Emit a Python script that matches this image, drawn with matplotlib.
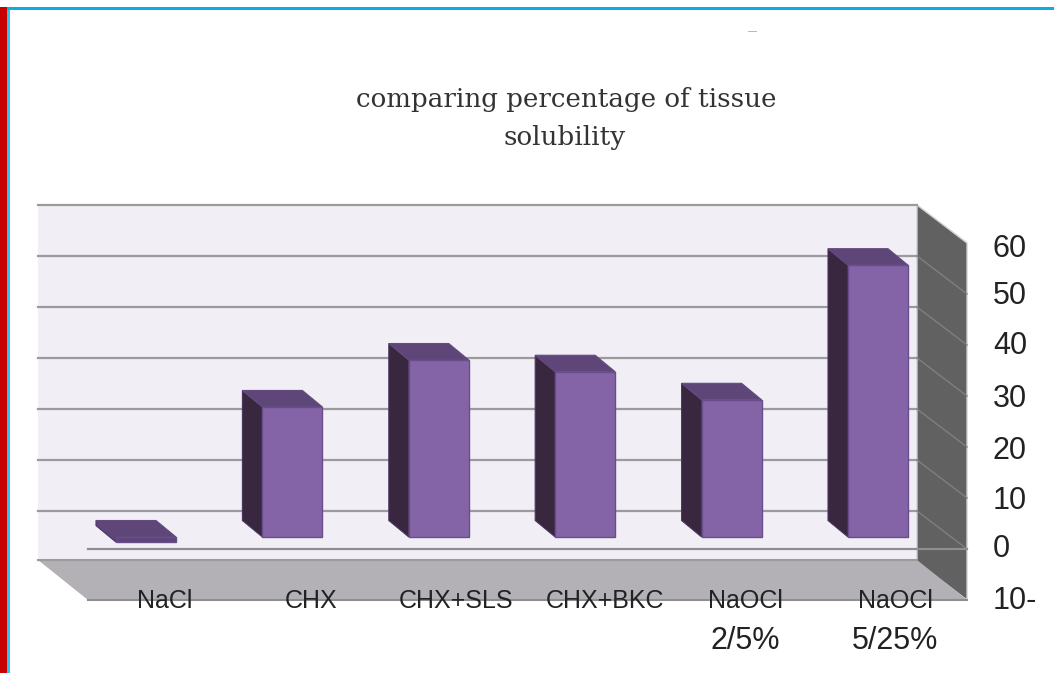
import matplotlib
matplotlib.use('Agg')
import matplotlib.pyplot as plt
from matplotlib.patches import Polygon, Rectangle

categories = ['NaCl', 'CHX', 'CHX+SLS', 'CHX+BKC', 'NaOCl', 'NaOCl']
sublabels = ['', '', '', '', '2/5%', '5/25%']
values = [-1, 25.5, 34.7, 32.4, 26.9, 53.3]
ticks = [60, 50, 40, 30, 20, 10, 0, -10]
tick_labels = ['60', '50', '40', '30', '20', '10', '0', '10-']
title_lines = ['comparing percentage of tissue', 'solubility']

W, H = 1054, 673
PX_X = 146.4   # pixels per category
PX_Y = 5.1     # pixels per percent
X0 = 146       # pixel of first bar centre
Y0 = 537       # pixel of the zero level in the bar plane

# depth of the box and bars, in data units
BACK = 26 / PX_Y
FRONT = -12 / PX_Y
BAR_DX = 20 / PX_X
BAR_DY = 16.5 / PX_Y
HALF = 30 / PX_X
WALL_L = (38 - X0) / PX_X
WALL_R = (917 - X0) / PX_X
BOX_DX = 50 / PX_X

WALL = '#f1eff5'
SIDE = '#616161'
FLOOR = '#b3b1b5'
GRID = '#9b9b9b'

fig = plt.figure(figsize=(W / 100, H / 100), dpi=100)
ax = fig.add_axes([0, 0, 1, 1])
ax.set_xlim(-X0 / PX_X, (W - X0) / PX_X)
ax.set_ylim((Y0 - H) / PX_Y, Y0 / PX_Y)
ax.axis('off')

vmin, vmax = min(ticks), max(ticks)
ax.add_patch(Polygon([(WALL_L, vmin + BACK), (WALL_R, vmin + BACK), (WALL_R, vmax + BACK), (WALL_L, vmax + BACK)],
                     fc=WALL, ec='none', zorder=1))
ax.add_patch(Polygon([(WALL_R, vmin + BACK), (WALL_R + BOX_DX, vmin + FRONT), (WALL_R + BOX_DX, vmax + FRONT), (WALL_R, vmax + BACK)],
                     fc=SIDE, ec='#cfcfcf', lw=1.0, zorder=1))
ax.add_patch(Polygon([(WALL_L, vmin + BACK + 0.4), (WALL_R, vmin + BACK + 0.4), (WALL_R + BOX_DX, vmin + FRONT), (WALL_L + BOX_DX, vmin + FRONT)],
                     fc=FLOOR, ec='none', zorder=2))
ax.plot([WALL_L, WALL_R], [vmin + BACK + 0.4] * 2, color=GRID, lw=1.5, zorder=3)
ax.plot([WALL_L + BOX_DX, WALL_R + BOX_DX], [vmin + FRONT] * 2, color='#8f8f8f', lw=1.5, zorder=3)

for t in ticks:
    if t == vmin:
        continue
    ax.plot([WALL_L, WALL_R], [t + BACK] * 2, color=GRID, lw=1.6, zorder=2)
    if t != vmax:
        ax.plot([WALL_R, WALL_R + BOX_DX], [t + BACK, t + FRONT], color='#7f7f7f', lw=1.0, zorder=2)
ax.plot([WALL_L + BOX_DX, WALL_R + BOX_DX], [FRONT, FRONT], color='#8e8e8e', lw=1.6, zorder=3)

for i, v in enumerate(values):
    top = max(v, 0)
    bot = min(v, 0)
    l, r = i - HALF, i + HALF
    # the flat bar below zero shows only its darker top colour
    front_col = '#8464a6' if v > 0 else '#5f4679'
    side_col = '#38273f' if v > 0 else '#5f4679'
    ax.add_patch(Polygon([(l, bot), (l, top), (l - BAR_DX, top + BAR_DY), (l - BAR_DX, bot + BAR_DY)],
                         fc=side_col, ec='#4a3560', lw=0.8, zorder=4))
    ax.add_patch(Polygon([(l, top), (r, top), (r - BAR_DX, top + BAR_DY), (l - BAR_DX, top + BAR_DY)],
                         fc='#5f4679', ec='#644a80', lw=0.8, zorder=5))
    ax.add_patch(Rectangle((l, bot), r - l, top - bot, fc=front_col, ec='#694d8c', lw=1.0, zorder=6))

label_dx = [19, 19, 17, 20, 14, 17]
for i, (a, b) in enumerate(zip(categories, sublabels)):
    xp = (X0 + PX_X * i + label_dx[i]) / W
    fig.text(xp, 1 - 601 / H, a, family='Liberation Sans', fontsize=18, color='#222222', ha='center', va='center')
    if b:
        fig.text(xp, 1 - 641 / H, b, family='Liberation Sans', fontsize=22, color='#222222', ha='center', va='center')

nudge = [6, 2, 1, 3, 4, 3, 0, 1]
for t, lab, n in zip(ticks, tick_labels, nudge):
    yp = Y0 - (t + FRONT) * PX_Y + n
    fig.text(993 / W, 1 - yp / H, lab, family='Liberation Sans', fontsize=22, color='#222222', ha='left', va='center')

fig.text(566 / W, 1 - 100 / H, title_lines[0], family='DejaVu Serif', fontsize=18.8, color='#333333', ha='center', va='center')
fig.text(565 / W, 1 - 137 / H, title_lines[1], family='DejaVu Serif', fontsize=18.8, color='#333333', ha='center', va='center')

# page border
fig.add_artist(Rectangle((0, 0), 7 / W, 1 - 7 / H, transform=fig.transFigure, fc='#c70000', ec='none'))
fig.add_artist(Rectangle((7 / W, 0), 3 / W, 1 - 7 / H, transform=fig.transFigure, fc='#29c4f4', ec='none'))
fig.add_artist(Rectangle((7 / W, 1 - 10 / H), 1 - 7 / W, 3 / H, transform=fig.transFigure, fc='#0aaee4', ec='none'))
fig.add_artist(Rectangle((748 / W, 1 - 32 / H), 9 / W, 1.5 / H, transform=fig.transFigure, fc='#b8b8b8', ec='none'))

fig.savefig('out.png', dpi=100)
